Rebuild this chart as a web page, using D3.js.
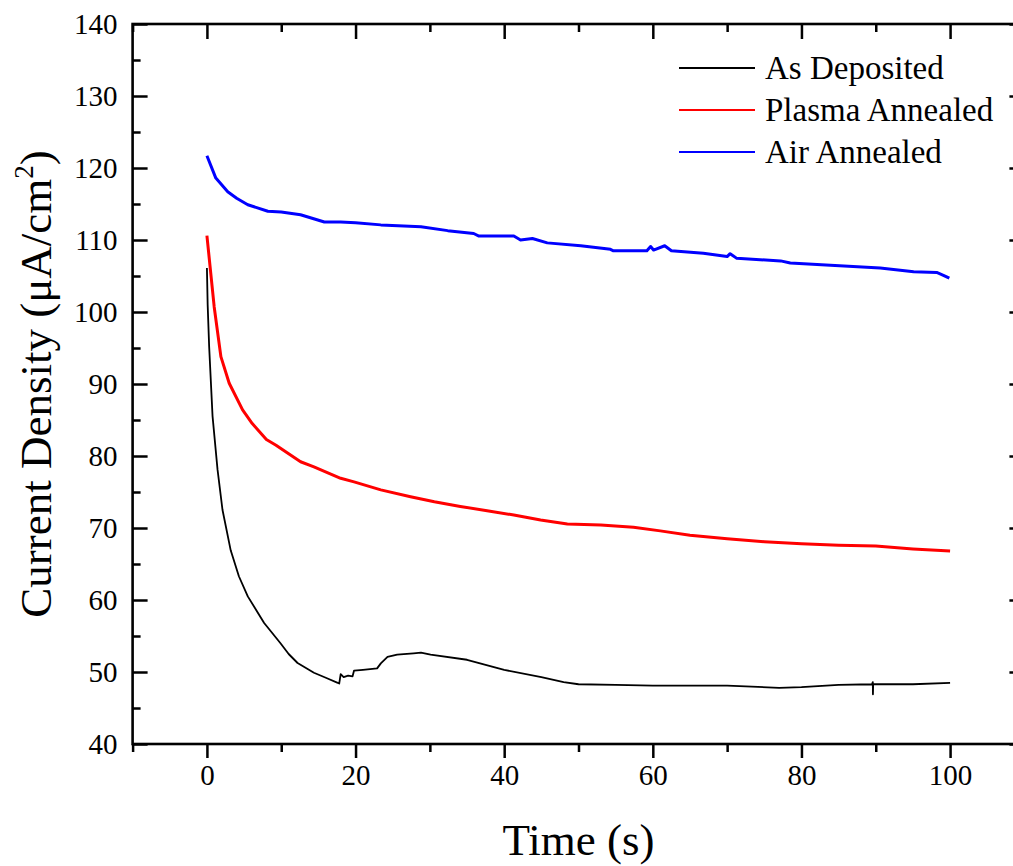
<!DOCTYPE html>
<html lang="en">
<head>
    <meta charset="UTF-8">
    <title>Current Density vs Time</title>
    <script src="https://d3js.org/d3.v7.min.js"></script>
    <style>
        body { margin: 0; background: #fff; }
        svg { display: block; }
        svg text { font-family: "Liberation Serif", "Times New Roman", serif !important; fill: #000; }
    </style>
</head>
<body>
    <svg width="1013" height="866"></svg>

    <script>
        // data: [time (s), current density (uA/cm2)]
        const seriesNames = ["As Deposited", "Plasma Annealed", "Air Annealed"];
        const seriesColors = ["#000000", "#ff0000", "#0000ff"];

        const asDeposited = [
            [0, 106.1], [0.1, 101], [0.3, 95.2], [0.76, 85.5], [1.43, 78.1], [2.1, 72.5],
            [3.2, 66.9], [4.3, 63.3], [5.5, 60.5], [7.7, 56.8], [9.9, 54], [11, 52.5],
            [12.2, 51.25], [14.4, 49.9], [16, 49.2], [17.6, 48.5], [17.8, 48.4], [18, 49.7],
            [18.4, 49.3], [19, 49.5], [19.6, 49.4], [19.8, 50.2], [21, 50.3], [22.9, 50.5],
            [23.4, 51.2], [24.3, 52.1], [25.6, 52.4], [27.8, 52.6], [28.8, 52.7], [30.1, 52.4],
            [35, 51.7], [40, 50.3], [45, 49.3], [48, 48.6], [50, 48.3], [55, 48.2],
            [60, 48.1], [70, 48.1], [77, 47.8], [80, 47.9], [85, 48.2], [89.5, 48.3],
            [89.6, 48.6], [89.62, 46.9], [89.65, 48.3], [95, 48.3], [100, 48.5]
        ];

        const plasmaAnnealed = [
            [0, 110.6], [0.98, 100.7], [1.88, 93.8], [3.0, 90.1], [4.8, 86.4], [6.1, 84.5],
            [8, 82.3], [9.3, 81.5], [11, 80.3], [12.6, 79.2], [14.4, 78.5], [18, 76.9],
            [19.8, 76.4], [23.4, 75.3], [27.4, 74.35], [30.6, 73.65], [34.1, 73], [37.7, 72.4],
            [41.3, 71.8], [44.9, 71.1], [48.5, 70.55], [53, 70.4], [57.4, 70.1], [61, 69.6],
            [65, 69.0], [70, 68.5], [75, 68.1], [80, 67.8], [85, 67.6], [90, 67.5],
            [95, 67.1], [100, 66.8]
        ];

        const airAnnealed = [
            [0, 121.7], [1.2, 118.6], [2.8, 116.7], [4, 115.8], [5.5, 114.9], [8.2, 114],
            [10, 113.9], [12.6, 113.5], [15.8, 112.5], [18, 112.5], [20, 112.4], [23.4, 112.1],
            [28.8, 111.85], [32.4, 111.3], [35.9, 110.9], [36.6, 110.55], [41.3, 110.55], [42.2, 110],
            [43.8, 110.2], [45.8, 109.6], [50.3, 109.2], [54.3, 108.7], [54.7, 108.5], [59.2, 108.5],
            [59.7, 109.1], [60.1, 108.6], [61.6, 109.2], [62.5, 108.5], [66.8, 108.15], [70, 107.7],
            [70.4, 108.1], [71.3, 107.45], [77.2, 107.1], [78.5, 106.8], [83.9, 106.5], [90.6, 106.1],
            [95.1, 105.6], [98.2, 105.5], [99.1, 105.1], [99.9, 104.7]
        ];

        const xMajor = [0, 20, 40, 60, 80, 100];
        const xMinor = [-10, 10, 30, 50, 70, 90, 110];
        const yMajor = [40, 50, 60, 70, 80, 90, 100, 110, 120, 130, 140];
        const yMinor = [45, 55, 65, 75, 85, 95, 105, 115, 125, 135];

        const FONT = '"Liberation Serif", "Times New Roman", serif';
        const svg = d3.select("svg");

        // plot frame (right border lies just past the window edge)
        const pLeft = 132.6, pRight = 1024.4, pTop = 24, pBottom = 744;

        const x = d3.scaleLinear().domain([-10, 110]).range([pLeft, pRight]);
        const y = d3.scaleLinear().domain([40, 140]).range([pBottom, pTop]);

        const axisStyle = function (g) {
            g.attr("font-family", null);
            g.select(".domain").remove();
            g.selectAll(".tick line").attr("stroke", "#000").attr("stroke-width", 2.5);
            g.selectAll(".tick text").style("font-size", "29px").style("font-family", FONT);
        };

        // bottom: ticks outward with labels
        svg.append("g").attr("transform", `translate(0,${pBottom})`)
            .call(d3.axisBottom(x).tickValues(xMajor).tickSize(14).tickPadding(6).tickFormat(d3.format("d")))
            .call(axisStyle);
        svg.append("g").attr("transform", `translate(0,${pBottom})`)
            .call(d3.axisBottom(x).tickValues(xMinor).tickSize(8).tickFormat(""))
            .call(axisStyle);

        // top: ticks inward, no labels
        svg.append("g").attr("transform", `translate(0,${pTop})`)
            .call(d3.axisTop(x).tickValues(xMajor).tickSize(-15).tickFormat(""))
            .call(axisStyle);
        svg.append("g").attr("transform", `translate(0,${pTop})`)
            .call(d3.axisTop(x).tickValues(xMinor).tickSize(-8).tickFormat(""))
            .call(axisStyle);

        // left: ticks inward with labels
        svg.append("g").attr("transform", `translate(${pLeft},0)`)
            .call(d3.axisLeft(y).tickValues(yMajor).tickSize(-15).tickPadding(15).tickFormat(d3.format("d")))
            .call(axisStyle);
        svg.append("g").attr("transform", `translate(${pLeft},0)`)
            .call(d3.axisLeft(y).tickValues(yMinor).tickSize(-8).tickFormat(""))
            .call(axisStyle);

        // right: ticks inward, no labels
        svg.append("g").attr("transform", `translate(${pRight},0)`)
            .call(d3.axisRight(y).tickValues(yMajor).tickSize(-15).tickFormat(""))
            .call(axisStyle);
        svg.append("g").attr("transform", `translate(${pRight},0)`)
            .call(d3.axisRight(y).tickValues(yMinor).tickSize(-8).tickFormat(""))
            .call(axisStyle);

        svg.append("rect")
            .attr("x", pLeft).attr("y", pTop)
            .attr("width", pRight - pLeft).attr("height", pBottom - pTop)
            .attr("fill", "none").attr("stroke", "#000").attr("stroke-width", 2.6);

        // curves
        const line = d3.line().x(d => x(d[0])).y(d => y(d[1]));
        const allSeries = [asDeposited, plasmaAnnealed, airAnnealed];
        const widths = [1.8, 3, 3];

        svg.append("g").selectAll("path")
            .data(allSeries)
            .join("path")
            .attr("d", d => line(d))
            .attr("fill", "none")
            .attr("stroke", (d, i) => seriesColors[i])
            .attr("stroke-width", (d, i) => widths[i])
            .attr("stroke-linejoin", "round");

        // legend
        const legend = svg.append("g").attr("transform", "translate(679,68)");
        seriesNames.forEach(function (name, i) {
            const row = legend.append("g").attr("transform", `translate(0,${i * 42})`);
            row.append("line")
                .attr("x1", 0).attr("x2", 76)
                .attr("stroke", seriesColors[i]).attr("stroke-width", 1.8);
            row.append("text")
                .attr("x", 86).attr("y", 11)
                .style("font-size", "33px")
                .text(name);
        });

        // axis titles
        svg.append("text")
            .attr("x", (pLeft + pRight) / 2).attr("y", 855)
            .attr("text-anchor", "middle")
            .style("font-size", "45px")
            .text("Time (s)");

        const yTitle = svg.append("text")
            .attr("transform", `translate(51,${(pTop + pBottom) / 2}) rotate(-90)`)
            .attr("text-anchor", "middle")
            .style("font-size", "45px");
        yTitle.append("tspan").text("Current Density (\u03bcA/cm");
        yTitle.append("tspan").attr("dy", -18).style("font-size", "27px").text("2");
        yTitle.append("tspan").attr("dy", 18).text(")");
    </script>
</body>
</html>
